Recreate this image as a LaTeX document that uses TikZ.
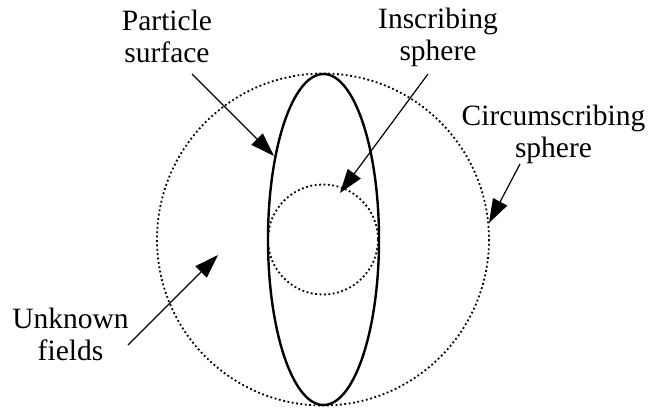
\documentclass[tikz,border=0pt]{standalone}
\usepackage{fontspec}
\setmainfont{Liberation Serif}
\usetikzlibrary{arrows.meta}
\tikzset{
  lbl/.style  ={align=center,font=\fontsize{29.5}{31.5}\selectfont,inner sep=0pt},
  surf/.style ={draw=black,line width=2.4pt},
  sph/.style  ={draw=black,line width=1.8pt,dash pattern=on 1.8pt off 2.6pt},
  a/.style    ={-{Triangle[length=24pt,width=16pt]},line width=1.2pt,black},
}
\begin{document}
\begin{tikzpicture}[x=1pt,y=-1pt]
  \useasboundingbox (0,0) rectangle (649,410);
  % spheres and particle
  \draw[sph] (323,239.5) circle[radius=166];
  \draw[sph] (323,239.5) circle[radius=55];
  \draw[surf] (323.5,239.5) ellipse[x radius=55.5,y radius=165.5];

  % labels (base = last line)
  \node[lbl,anchor=base] (ps) at (167,62) {Particle\\surface};
  \node[lbl,anchor=base] (is) at (438,60) {Inscribing\\sphere};
  \node[lbl,anchor=base] (cs) at (553.5,157) {Circumscribing\\sphere};
  \node[lbl,anchor=base] (uf) at (70.5,360) {Unknown\\fields};

  % arrow ends
  \coordinate (ps-t) at (192,74);   \coordinate (ps-h) at (274,156);
  \coordinate (is-t) at (428,74);   \coordinate (is-h) at (340,193);
  \coordinate (cs-t) at (520,164);  \coordinate (cs-h) at (489,223);
  \coordinate (uf-t) at (128,345);  \coordinate (uf-h) at (218,255);
  \draw[a] (ps-t) -- (ps-h);
  \draw[a] (is-t) -- (is-h);
  \draw[a] (cs-t) -- (cs-h);
  \draw[a] (uf-t) -- (uf-h);
\end{tikzpicture}
\end{document}
